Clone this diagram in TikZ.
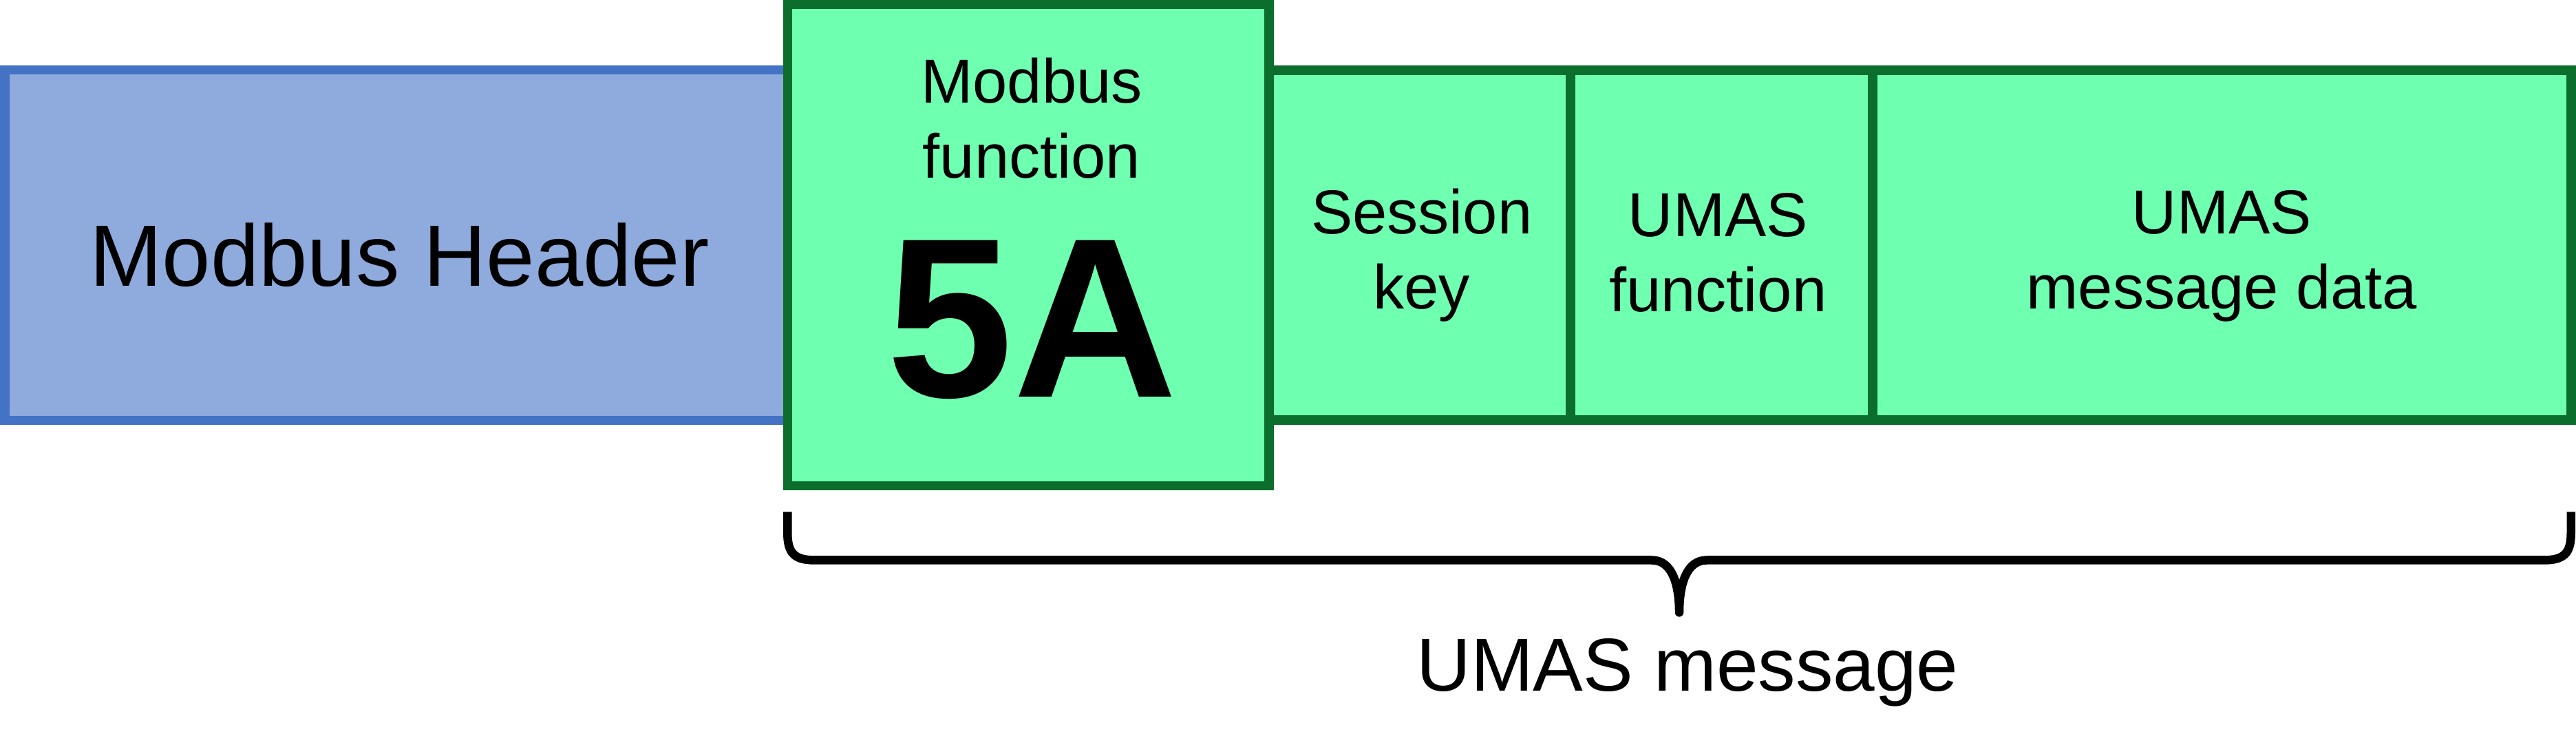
\documentclass[tikz,border=0pt]{standalone}
\usepackage{fontspec}
\setmainfont{Liberation Sans}
\usetikzlibrary{positioning, calc}

\definecolor{hdrfill}{HTML}{8FAADC}
\definecolor{hdrline}{HTML}{4472C4}
\definecolor{umasfill}{HTML}{6EFFB0}
\definecolor{umasline}{HTML}{0C6E2C}

\tikzset{
    field/.style={rectangle, draw=umasline, fill=umasfill, line width=0.135cm,
        outer sep=0pt, inner sep=0pt, minimum height=5.08cm},
    hdr/.style={field, draw=hdrline, fill=hdrfill},
    txt/.style={anchor=base, align=center, font=\fontsize{25.7}{31.2}\selectfont},
    brace/.style={draw=black, line width=0.125cm, line join=round}
}

\begin{document}
\begin{tikzpicture}
        \useasboundingbox (0,0) rectangle (37.43,10.95);

        \node[hdr, minimum width=11.375cm, minimum height=5.09cm] (header) at (5.755,7.39) {};
        \node[field, minimum width=6.995cm, minimum height=6.99cm, right=0pt of header] (func) {};
        \node[field, minimum width=4.38cm, right=0pt of func] (session) {};
        \node[field, minimum width=4.39cm, right=0pt of session] (umasfn) {};
        \node[field, minimum width=10.15cm, right=0pt of umasfn] (msgdata) {};

        % texts (base = last line)
        \node[txt, font=\fontsize{36}{43}\selectfont] (hdrtext) at ([xshift=0.05cm, yshift=-0.6cm]header.center) {Modbus Header};
        \node[txt] (functext) at ([xshift=0.05cm, yshift=0.97cm]func.center) {Modbus\\function};
        \node[txt, font=\fontsize{94}{100}\bfseries] (funccode) at ([xshift=0.06cm, yshift=-2.21cm]func.center) {5A};
        \node[txt] (sessiontext) at ([xshift=0.03cm, yshift=-0.93cm]session.center) {Session\\key};
        \node[txt] (umasfntext) at ([xshift=-0.05cm, yshift=-0.97cm]umasfn.center) {UMAS\\function};
        \node[txt] (msgdatatext) at ([yshift=-0.93cm]msgdata.center) {UMAS\\message data};

        % brace under the UMAS part
        \coordinate (bl) at ([yshift=-0.38cm]func.south west);
        \coordinate (br) at (bl -| msgdata.east);
        \coordinate (tip) at ($(bl)!0.5!(br)+(0,-1.46)$);
        \draw[brace] (bl) -- ++(0,-0.3)
            .. controls +(0,-0.3) and +(-0.3,0) .. ++(0.4,-0.4)
            -- ($(tip)+(-0.4,0.76)$)
            .. controls +(0.3,0) and +(0,0.4) .. (tip)
            .. controls +(0,0.4) and +(-0.3,0) .. ($(tip)+(0.4,0.76)$)
            -- ($(br)+(-0.4,-0.7)$)
            .. controls +(0.3,0) and +(0,-0.3) .. ($(br)+(0,-0.3)$)
            -- (br);

        \node[txt, font=\fontsize{31}{37}\selectfont] (umasmsg) at ([xshift=0.12cm, yshift=-1.14cm]tip) {UMAS message};
\end{tikzpicture}
\end{document}
